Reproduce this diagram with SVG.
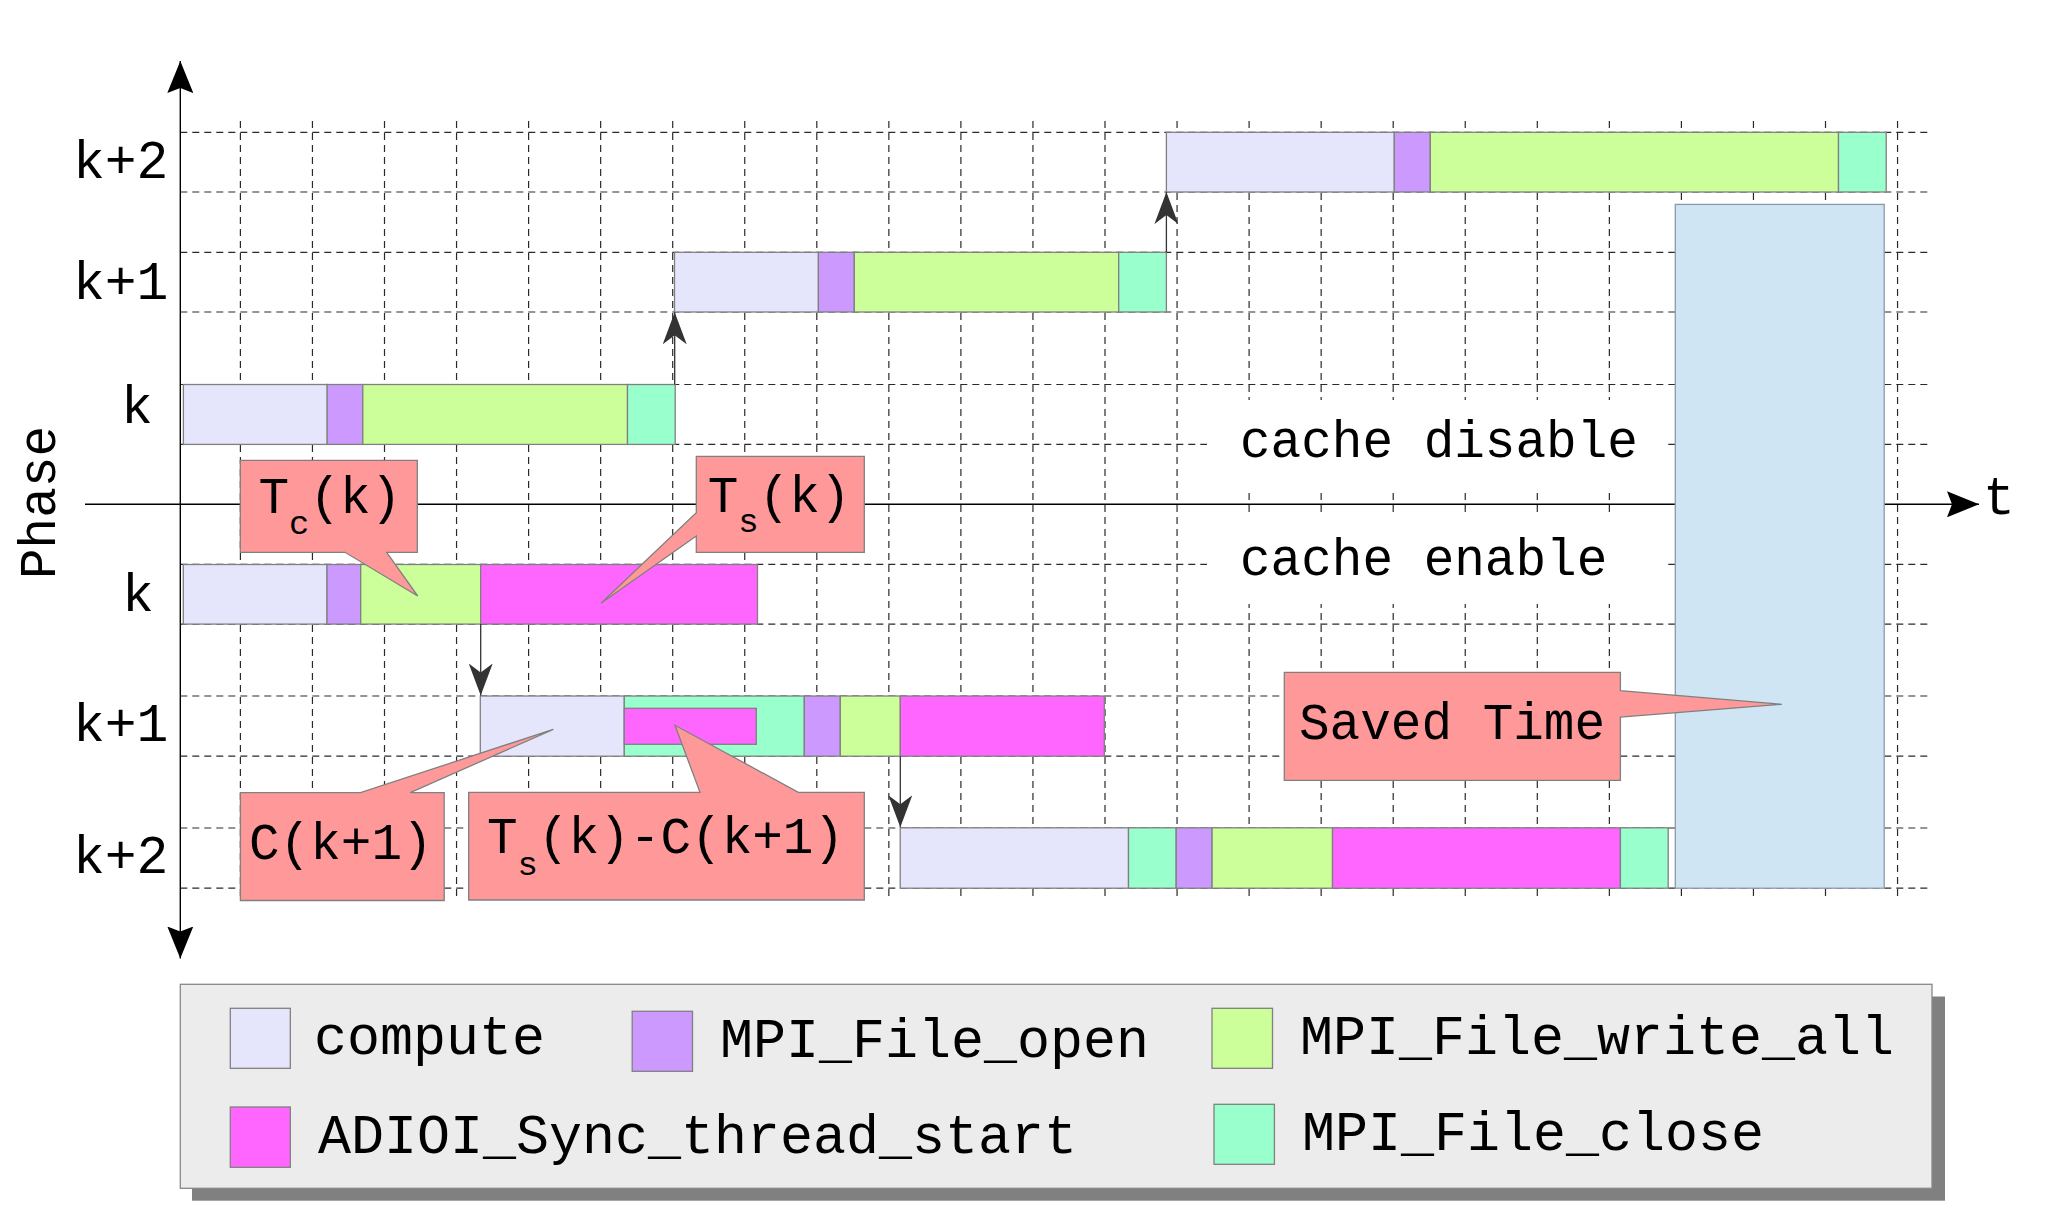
<svg xmlns="http://www.w3.org/2000/svg" width="2048" height="1212" viewBox="0 0 2048 1212">
<style>
text{font-family:"Liberation Mono","DejaVu Sans Mono",monospace;fill:#000}
.lbl{font-size:53px}
.pt{font-size:51px}
.lg{font-size:55px}
.sub{font-size:34px}
.grid{fill:none;stroke:#2a2a2a;stroke-width:1.2;stroke-dasharray:7 5}
.bar{stroke:#808080;stroke-width:1.3}
.cmp{fill:#e5e5fc}.opn{fill:#cc99ff}.wr{fill:#ccff99}.cls{fill:#99ffcc}.syn{fill:#ff66ff}
.call{fill:#ff9999;stroke:#808080;stroke-width:1.3}
.conn{stroke:#333;stroke-width:1.3;fill:none}
.axis{stroke:#000;stroke-width:1.4;fill:none}
</style>
<defs>
<marker id="ah" markerUnits="userSpaceOnUse" markerWidth="32" markerHeight="24" viewBox="0 0 32 24" refX="32" refY="12" orient="auto"><path d="M0,0 L32,12 L0,24 L9,12 Z" fill="#333"/></marker>
<marker id="axh" markerUnits="userSpaceOnUse" markerWidth="32" markerHeight="26" viewBox="0 0 32 26" refX="32" refY="13" orient="auto"><path d="M0,0 L32,13 L0,26 L5,13 Z" fill="#000"/></marker>
</defs>
<rect width="2048" height="1212" fill="#fff"/>

<g id="grid">
<path class="grid" d="M180.3,132.3H1932M180.3,192H1932M180.3,252.3H1932M180.3,312H1932M180.3,384.5H1932M180.3,444.4H1932M180.3,564.4H1932M180.3,624.2H1932M180.3,696H1932M180.3,756.2H1932M180.3,828H1932M180.3,888.2H1932"/>
<path class="grid" d="M240.4,121V900M312.45,121V900M384.5,121V900M456.55,121V900M528.6,121V900M600.65,121V900M672.7,121V900M744.75,121V900M816.8,121V900M888.85,121V900M960.9,121V900M1032.95,121V900M1105,121V900M1177.05,121V900M1249.1,121V900M1321.15,121V900M1393.2,121V900M1465.25,121V900M1537.3,121V900M1609.35,121V900M1681.4,121V900M1753.45,121V900M1825.5,121V900M1897.55,121V900"/>
</g>

<g id="axes">
<path class="axis" d="M180.3,505 V61" marker-end="url(#axh)"/>
<path class="axis" d="M180.3,504 V958.5" marker-end="url(#axh)"/>
<path class="axis" d="M85,504.3 H1979" marker-end="url(#axh)"/>
<text class="lbl" x="1983" y="514">t</text>
<text class="pt" transform="translate(55,579) rotate(-90)">Phase</text>
</g>

<g id="row-labels">
<text class="lbl" x="73" y="178.3">k+2</text>
<text class="lbl" x="73" y="299.3">k+1</text>
<text class="lbl" x="121" y="423.3">k</text>
<text class="lbl" x="122" y="610.7">k</text>
<text class="lbl" x="73" y="741">k+1</text>
<text class="lbl" x="73" y="873.4">k+2</text>
</g>

<g id="cache-labels">
<rect x="1207" y="400" width="461" height="92" fill="#fff"/>
<rect x="1207" y="516" width="461" height="88" fill="#fff"/>
<text class="pt" x="1240" y="457.3">cache disable</text>
<text class="pt" x="1240" y="575">cache enable</text>
</g>

<g id="phase-k-disable">
<rect class="bar cmp" x="183.4" y="384.5" width="143.8" height="59.9"/>
<rect class="bar opn" x="327.2" y="384.5" width="35.6" height="59.9"/>
<rect class="bar wr" x="362.8" y="384.5" width="264.7" height="59.9"/>
<rect class="bar cls" x="627.5" y="384.5" width="47.7" height="59.9"/>
</g>
<g id="phase-k1-disable">
<rect class="bar cmp" x="674.5" y="252.3" width="143.9" height="59.7"/>
<rect class="bar opn" x="818.4" y="252.3" width="35.9" height="59.7"/>
<rect class="bar wr" x="854.3" y="252.3" width="264.4" height="59.7"/>
<rect class="bar cls" x="1118.7" y="252.3" width="47.7" height="59.7"/>
</g>
<g id="phase-k2-disable">
<rect class="bar cmp" x="1166.4" y="132.3" width="227.9" height="59.7"/>
<rect class="bar opn" x="1394.3" y="132.3" width="36" height="59.7"/>
<rect class="bar wr" x="1430.3" y="132.3" width="408.2" height="59.7"/>
<rect class="bar cls" x="1838.5" y="132.3" width="47.7" height="59.7"/>
</g>

<g id="phase-k-enable">
<rect class="bar cmp" x="183.3" y="564.5" width="143.7" height="59.6"/>
<rect class="bar opn" x="327" y="564.5" width="33.7" height="59.6"/>
<rect class="bar wr" x="360.7" y="564.5" width="120" height="59.6"/>
<rect class="bar syn" x="480.7" y="564.5" width="276.8" height="59.6"/>
</g>
<g id="phase-k1-enable">
<rect class="bar cmp" x="480.3" y="696" width="144" height="60.2"/>
<rect class="bar cls" x="624.3" y="696" width="180" height="60.2"/>
<rect class="bar syn" x="624.3" y="708.3" width="132" height="36"/>
<rect class="bar opn" x="804.3" y="696" width="36" height="60.2"/>
<rect class="bar wr" x="840.3" y="696" width="60" height="60.2"/>
<rect class="bar syn" x="900.3" y="696" width="204" height="60.2"/>
</g>
<g id="phase-k2-enable">
<rect class="bar cmp" x="900.2" y="827.8" width="228.3" height="60.4"/>
<rect class="bar cls" x="1128.5" y="827.8" width="47.7" height="60.4"/>
<rect class="bar opn" x="1176.2" y="827.8" width="35.9" height="60.4"/>
<rect class="bar wr" x="1212.1" y="827.8" width="120.4" height="60.4"/>
<rect class="bar syn" x="1332.5" y="827.8" width="287.9" height="60.4"/>
<rect class="bar cls" x="1620.4" y="827.8" width="47.8" height="60.4"/>
</g>

<g id="saved-time-area">
<rect x="1675.3" y="204.4" width="208.9" height="683.8" fill="#cfe5f4" stroke="#8a9aa8" stroke-width="1.3"/>
</g>

<g id="connectors">
<path class="conn" d="M674.7,384.5 V312.3" marker-end="url(#ah)"/>
<path class="conn" d="M1166.4,252.3 V192.1" marker-end="url(#ah)"/>
<path class="conn" d="M480.7,624.1 V695.5" marker-end="url(#ah)"/>
<path class="conn" d="M900.3,756.2 V827.3" marker-end="url(#ah)"/>
</g>

<g id="callout-tc">
<path class="call" d="M240.3,460.3 H417.3 V552.3 H386.7 L417.7,596 L345,552.3 H240.3 Z"/>
<text class="pt" x="258.5" y="513.3">T<tspan class="sub" dy="20.5">c</tspan><tspan dy="-20.5">(k)</tspan></text>
</g>
<g id="callout-ts">
<path class="call" d="M696.3,456.3 H864.3 V552.3 H696.3 V536 L601,603.3 L696.3,512.7 Z"/>
<text class="pt" x="707.7" y="511.7">T<tspan class="sub" dy="20">s</tspan><tspan dy="-20">(k)</tspan></text>
</g>
<g id="callout-c">
<path class="call" d="M240.4,792.7 H360.5 L553.3,729.3 L410.2,792.7 H444.2 V900.5 H240.4 Z"/>
<text class="pt" x="249" y="859">C(k+1)</text>
</g>
<g id="callout-diff">
<path class="call" d="M468.7,792.3 H700 L675,725.3 L798.3,792.3 H864.3 V900 H468.7 Z"/>
<text class="pt" x="487" y="853.3">T<tspan class="sub" dy="21.5">s</tspan><tspan dy="-21.5">(k)-C(k+1)</tspan></text>
</g>
<g id="callout-saved">
<path class="call" d="M1284.3,672.3 H1620.4 V690.7 L1781.8,704.3 L1620.4,717 V780.3 H1284.3 Z"/>
<text class="pt" x="1299" y="739.3">Saved Time</text>
</g>

<g id="legend">
<rect x="192" y="996.5" width="1753" height="204.2" fill="#808080"/>
<rect x="180.3" y="984.3" width="1751.7" height="204" fill="#ececec" stroke="#888" stroke-width="1.3"/>
<rect class="bar cmp" x="230.3" y="1008.3" width="60" height="60"/>
<text class="lg" x="314" y="1054.3">compute</text>
<rect class="bar opn" x="632.2" y="1011.3" width="60.3" height="60"/>
<text class="lg" x="720" y="1056.5">MPI_File_open</text>
<rect class="bar wr" x="1212" y="1008.3" width="60.5" height="60"/>
<text class="lg" x="1300" y="1053.5">MPI_File_write_all</text>
<rect class="bar syn" x="230.3" y="1107" width="60" height="60.3"/>
<text class="lg" x="318" y="1152.7">ADIOI_Sync_thread_start</text>
<rect class="bar cls" x="1214" y="1104.3" width="60.4" height="60"/>
<text class="lg" x="1302" y="1149.5">MPI_File_close</text>
</g>
</svg>
